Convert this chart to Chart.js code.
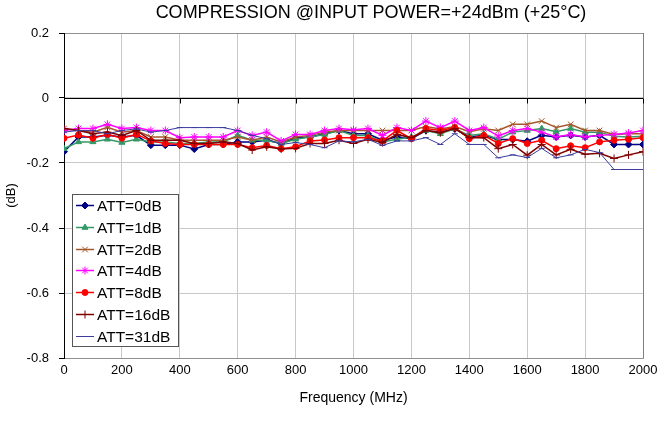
<!DOCTYPE html>
<html>
<head>
<meta charset="utf-8">
<script src="https://cdn.jsdelivr.net/npm/chart.js@4.4.0/dist/chart.umd.min.js"></script>
<style>
html, body { margin: 0; padding: 0; background: #fff; }
#wrap { width: 671px; height: 426px; position: relative; }
#title {
    position: absolute; left: 71px; top: 2px; width: 600px;
    text-align: center; line-height: 25px;
    font: 18px "Liberation Sans", Arial, sans-serif; color: #000;
}
</style>
</head>
<body>
<div id="wrap">
    <canvas id="myChart"></canvas>
    <div id="title">COMPRESSION @INPUT POWER=+24dBm (+25°C)</div>
</div>
<script>
// frequency points (MHz)
const freqs = [0, 50, 100, 150, 200, 250, 300, 350, 400, 450, 500, 550, 600, 650, 700, 750, 800, 850, 900, 950,
    1000, 1050, 1100, 1150, 1200, 1250, 1300, 1350, 1400, 1450, 1500, 1550, 1600, 1650, 1700, 1750, 1800, 1850, 1900, 1950, 2000];

// compression (dB) per attenuation setting
const att0 = [-0.165, -0.12, -0.12, -0.115, -0.12, -0.115, -0.145, -0.145, -0.145, -0.157, -0.143, -0.143, -0.135, -0.135, -0.13, -0.14, -0.123, -0.12, -0.11, -0.10,
    -0.11, -0.11, -0.13, -0.12, -0.125, -0.10, -0.105, -0.095, -0.12, -0.115, -0.128, -0.128, -0.133, -0.115, -0.12, -0.115, -0.12, -0.115, -0.143, -0.143, -0.143];
const att1 = [-0.156, -0.135, -0.135, -0.127, -0.137, -0.127, -0.135, -0.135, -0.14, -0.14, -0.135, -0.135, -0.115, -0.13, -0.13, -0.14, -0.127, -0.12, -0.112, -0.10,
    -0.115, -0.115, -0.135, -0.127, -0.12, -0.10, -0.11, -0.095, -0.115, -0.11, -0.127, -0.105, -0.10, -0.094, -0.104, -0.094, -0.105, -0.105, -0.118, -0.12, -0.118];
const att2 = [-0.094, -0.10, -0.105, -0.09, -0.105, -0.10, -0.12, -0.12, -0.13, -0.13, -0.13, -0.13, -0.12, -0.13, -0.12, -0.135, -0.12, -0.115, -0.105, -0.10,
    -0.10, -0.10, -0.10, -0.10, -0.10, -0.088, -0.095, -0.088, -0.104, -0.095, -0.10, -0.081, -0.081, -0.071, -0.091, -0.081, -0.10, -0.10, -0.112, -0.11, -0.11];
const att4 = [-0.10, -0.094, -0.094, -0.081, -0.094, -0.091, -0.10, -0.10, -0.122, -0.12, -0.12, -0.12, -0.10, -0.115, -0.105, -0.132, -0.112, -0.112, -0.10, -0.094,
    -0.098, -0.094, -0.115, -0.091, -0.10, -0.071, -0.091, -0.071, -0.10, -0.091, -0.117, -0.10, -0.094, -0.105, -0.12, -0.112, -0.12, -0.115, -0.112, -0.108, -0.10];
const att8 = [-0.124, -0.114, -0.124, -0.112, -0.124, -0.112, -0.132, -0.14, -0.143, -0.143, -0.143, -0.143, -0.143, -0.153, -0.146, -0.156, -0.15, -0.132, -0.129, -0.122,
    -0.122, -0.122, -0.132, -0.10, -0.125, -0.094, -0.10, -0.091, -0.125, -0.115, -0.14, -0.125, -0.14, -0.13, -0.156, -0.147, -0.153, -0.135, -0.13, -0.127, -0.122];
const att16 = [-0.094, -0.10, -0.11, -0.105, -0.115, -0.10, -0.13, -0.13, -0.13, -0.14, -0.14, -0.135, -0.14, -0.16, -0.15, -0.157, -0.155, -0.14, -0.14, -0.13,
    -0.14, -0.127, -0.137, -0.112, -0.122, -0.10, -0.107, -0.094, -0.122, -0.122, -0.156, -0.143, -0.176, -0.143, -0.175, -0.158, -0.173, -0.17, -0.186, -0.175, -0.165];
const att31 = [-0.105, -0.10, -0.10, -0.11, -0.10, -0.095, -0.105, -0.10, -0.091, -0.091, -0.091, -0.091, -0.10, -0.115, -0.125, -0.143, -0.137, -0.143, -0.153, -0.132,
    -0.135, -0.127, -0.146, -0.132, -0.132, -0.122, -0.143, -0.11, -0.143, -0.143, -0.184, -0.175, -0.183, -0.155, -0.184, -0.175, -0.158, -0.168, -0.22, -0.22, -0.22];

const seriesLabels = ['ATT=0dB', 'ATT=1dB', 'ATT=2dB', 'ATT=4dB', 'ATT=8dB', 'ATT=16dB', 'ATT=31dB'];
const seriesValues = [att0, att1, att2, att4, att8, att16, att31];

const xTicks = { min: 0, max: 2000, step: 200 };
const yTicks = { min: -0.8, max: 0.2, step: 0.2 };

const FONT = '"Liberation Sans", Arial, sans-serif';

const looks = [
    { color: '#000080', style: 'rectRot', r: 3.5, w: 1.5 },
    { color: '#339966', style: 'triangle', r: 3.5, w: 1.5 },
    { color: '#A5552A', style: 'crossRot', r: 4, w: 1.5 },
    { color: '#FF00FF', style: 'star', r: 4, w: 1.5 },
    { color: '#FF0000', style: 'circle', r: 3, w: 1.5 },
    { color: '#800000', style: 'cross', r: 4, w: 1.5 },
    { color: '#3C3C9C', style: 'line', r: 3, w: 1 }
];

const datasets = seriesLabels.map((label, i) => ({
    label: label,
    data: freqs.map((f, k) => ({ x: f, y: seriesValues[i][k] })),
    borderColor: looks[i].color,
    backgroundColor: looks[i].color,
    pointBackgroundColor: looks[i].color,
    pointBorderColor: looks[i].color,
    pointStyle: looks[i].style,
    pointRadius: looks[i].r,
    pointBorderWidth: 1,
    borderWidth: looks[i].w,
    showLine: true,
    tension: 0,
    order: seriesLabels.length - i
}));

// black x axis line at 0 dB with tick marks
const zeroAxis = {
    id: 'zeroAxis',
    beforeDatasetsDraw(chart) {
        const { ctx, chartArea: a, scales: { x, y } } = chart;
        const py = Math.round(y.getPixelForValue(0)) + 0.5;
        ctx.save();
        ctx.strokeStyle = '#000';
        ctx.lineWidth = 1;
        ctx.beginPath();
        ctx.moveTo(a.left, py);
        ctx.lineTo(a.right, py);
        x.ticks.forEach(t => {
            const px = Math.round(x.getPixelForValue(t.value)) + 0.5;
            ctx.moveTo(px, py);
            ctx.lineTo(px, py + 5);
        });
        ctx.stroke();
        ctx.restore();
    }
};

// legend box inside the plot, bottom left
const boxLegend = {
    id: 'boxLegend',
    afterDraw(chart) {
        const ctx = chart.ctx, a = chart.chartArea;
        const rowH = 21.8, w = 106, h = 152;
        const x0 = Math.round(a.left + 8), y0 = Math.round(a.bottom - 12 - h);
        ctx.save();
        ctx.fillStyle = '#fff';
        ctx.fillRect(x0, y0, w, h);
        ctx.strokeStyle = '#555';
        ctx.lineWidth = 1;
        ctx.strokeRect(x0 + 0.5, y0 + 0.5, w, h);
        ctx.font = '15.5px ' + FONT;
        ctx.textBaseline = 'middle';
        chart.data.datasets.forEach((ds, i) => {
            const yy = Math.round(y0 + 11 + i * rowH) + 0.5;
            ctx.strokeStyle = ds.borderColor;
            ctx.lineWidth = ds.borderWidth;
            ctx.beginPath();
            ctx.moveTo(x0 + 4, yy);
            ctx.lineTo(x0 + 22, yy);
            ctx.stroke();
            if (Chart.helpers && Chart.helpers.drawPoint) {
                ctx.fillStyle = ds.pointBackgroundColor;
                ctx.strokeStyle = ds.pointBorderColor;
                ctx.lineWidth = 1;
                Chart.helpers.drawPoint(ctx, { pointStyle: ds.pointStyle, radius: ds.pointRadius, rotation: 0, borderWidth: 1 }, x0 + 13, yy);
            }
            ctx.fillStyle = '#000';
            ctx.fillText(ds.label, x0 + 25, yy + 1);
        });
        ctx.restore();
    }
};

new Chart(document.getElementById('myChart'), {
    type: 'scatter',
    data: { datasets: datasets },
    options: {
        responsive: true,
        maintainAspectRatio: false,
        animation: false,
        layout: { padding: { left: 0, right: 28, top: 33, bottom: 0 } },
        plugins: {
            legend: { display: false },
            tooltip: { enabled: false },
            title: { display: false }
        },
        scales: {
            x: {
                type: 'linear',
                min: xTicks.min,
                max: xTicks.max,
                afterFit(scale) { scale.height = 68; },
                ticks: {
                    stepSize: xTicks.step,
                    color: '#000',
                    font: { family: FONT, size: 13 },
                    padding: 5,
                    maxRotation: 0,
                    callback: v => String(v)
                },
                grid: {
                    color: ctx => (ctx.tick && ctx.tick.value === xTicks.max) ? '#808080' : '#c8c8c8',
                    drawTicks: false
                },
                border: { color: '#909090' },
                title: {
                    display: true,
                    text: 'Frequency (MHz)',
                    color: '#000',
                    font: { family: FONT, size: 14 },
                    padding: { top: 0, bottom: 19 }
                }
            },
            y: {
                min: yTicks.min,
                max: yTicks.max,
                afterFit(scale) { scale.width = 64; },
                ticks: {
                    stepSize: yTicks.step,
                    color: '#000',
                    font: { family: FONT, size: 13 },
                    padding: 10,
                    callback: v => String(Math.round(v * 10) / 10)
                },
                grid: {
                    color: ctx => (ctx.tick && Math.abs(ctx.tick.value - yTicks.max) < 1e-6) ? '#909090' : '#c8c8c8',
                    tickColor: '#000',
                    tickLength: 5
                },
                border: { color: '#000' },
                title: {
                    display: true,
                    text: '(dB)',
                    color: '#000',
                    font: { family: FONT, size: 13 },
                    padding: { top: 4, bottom: 0 }
                }
            }
        }
    },
    plugins: [zeroAxis, boxLegend]
});
</script>
</body>
</html>
